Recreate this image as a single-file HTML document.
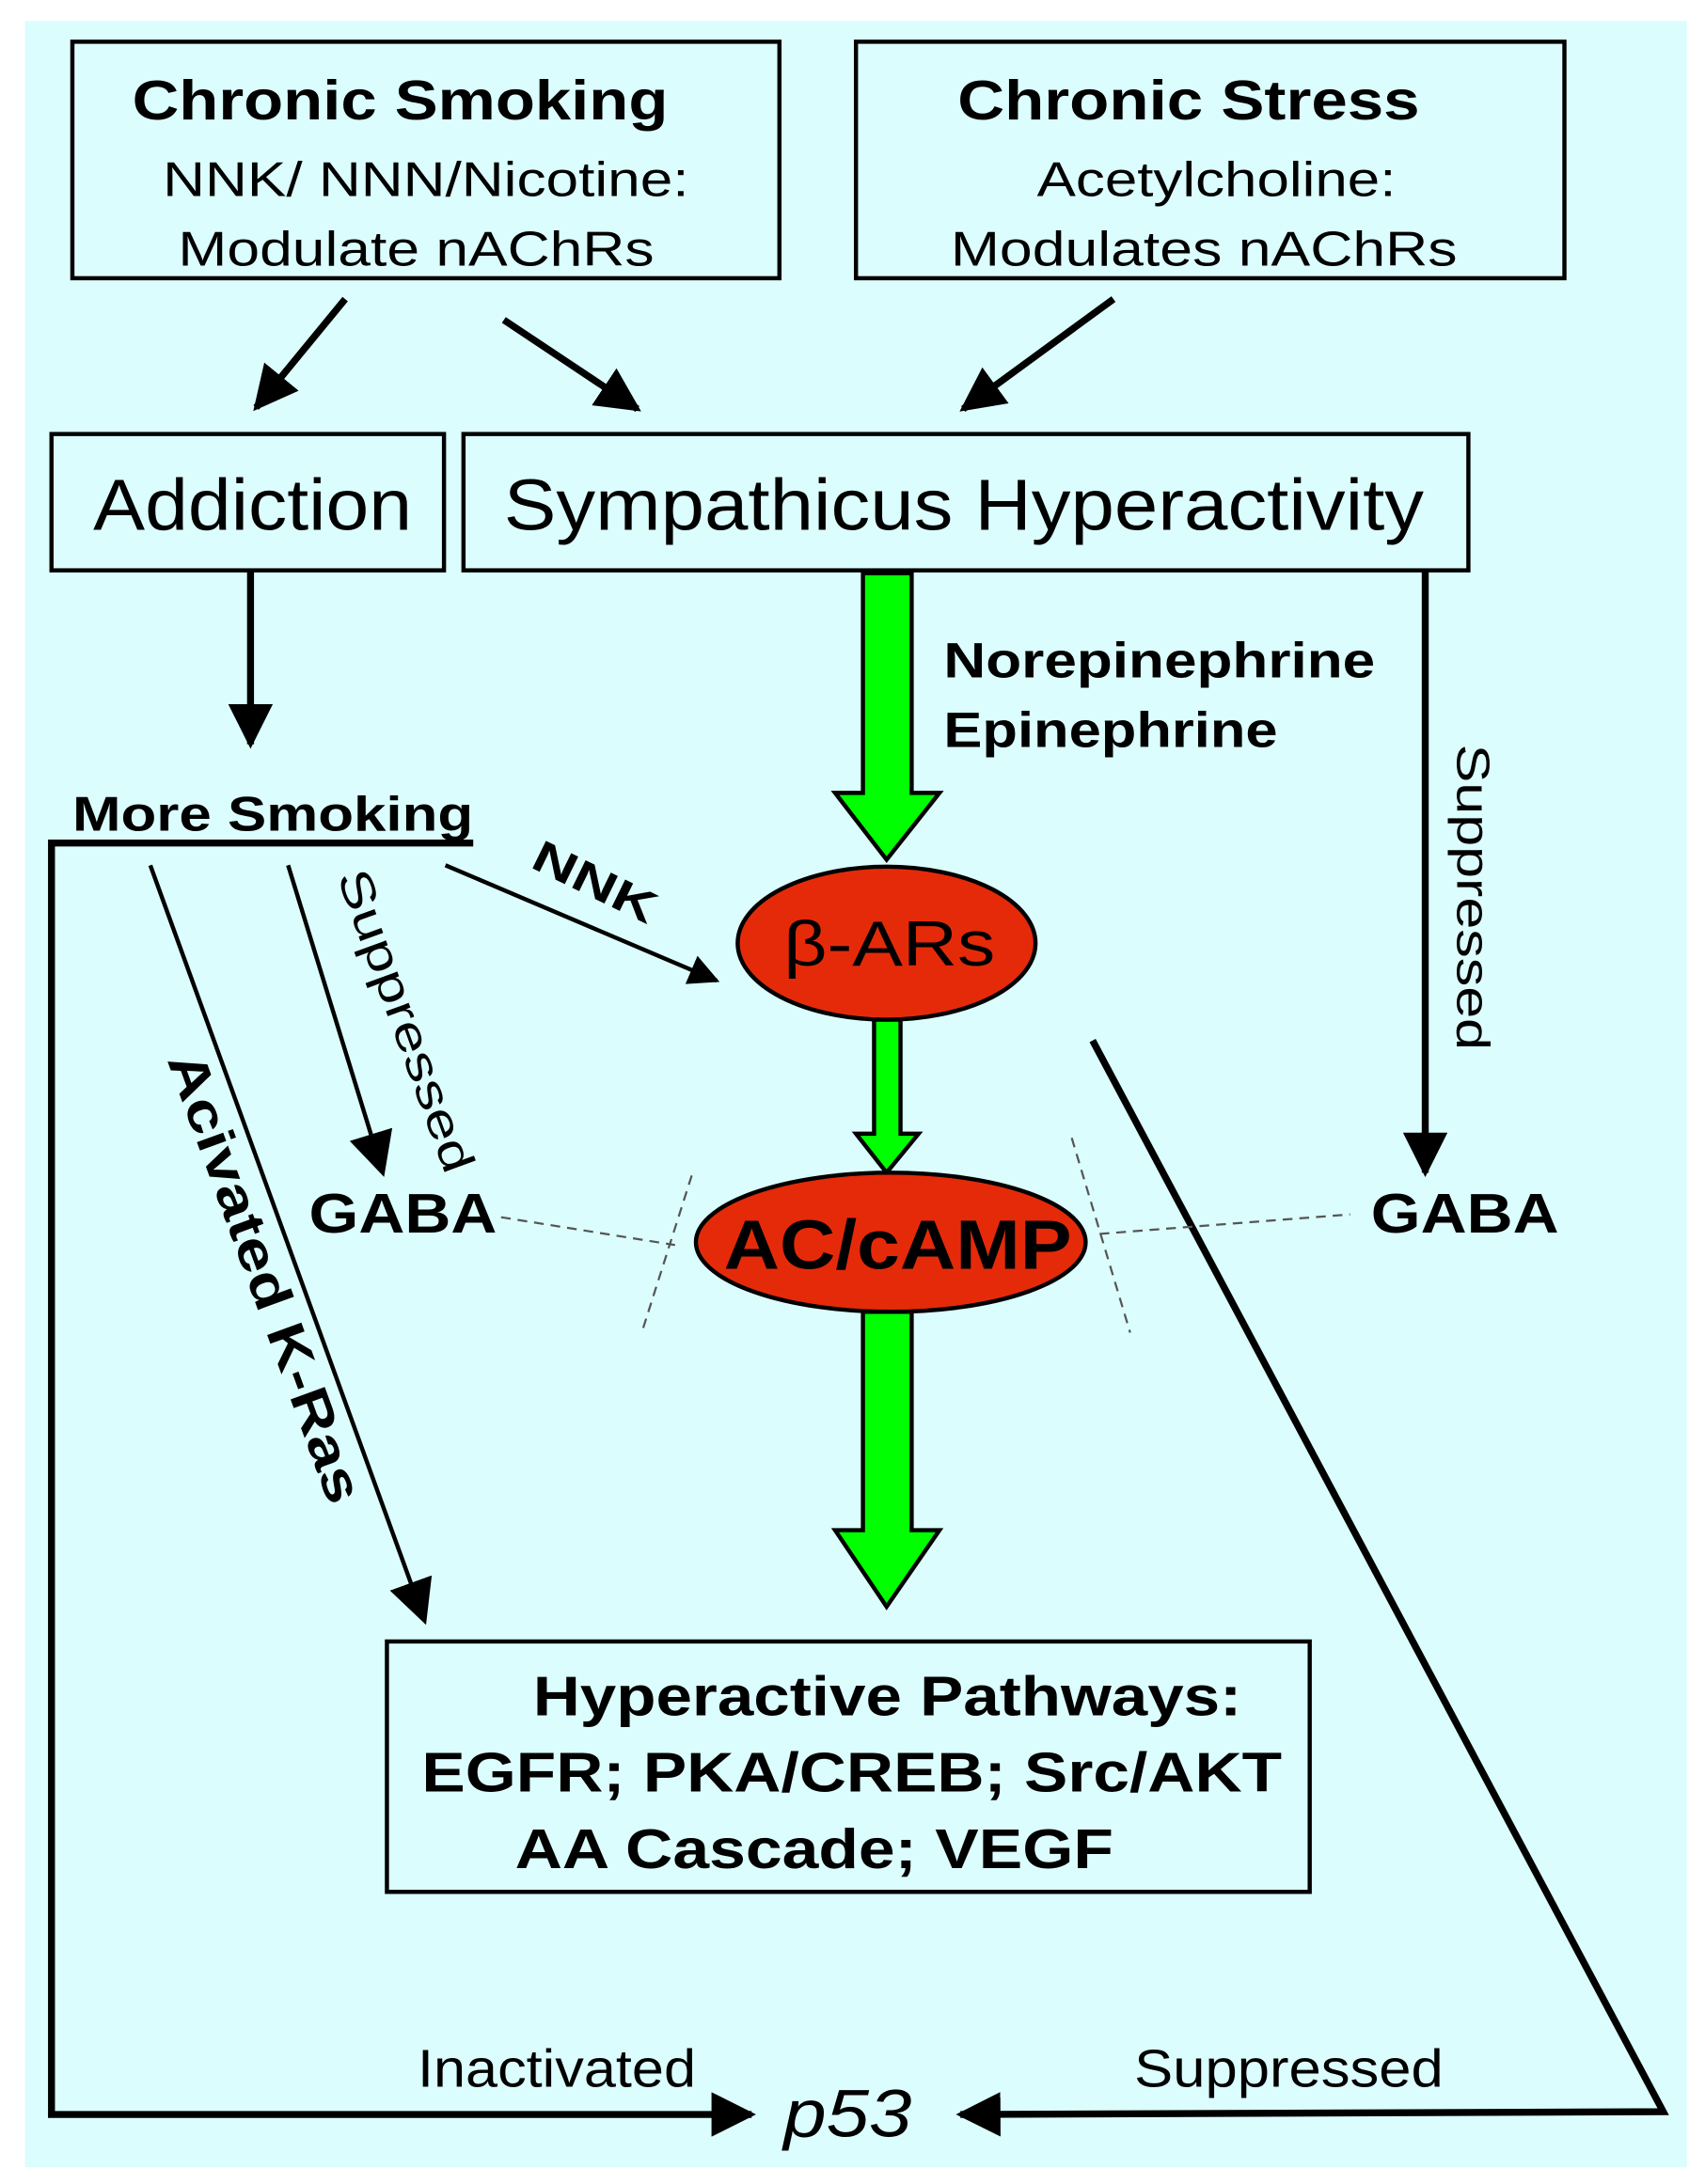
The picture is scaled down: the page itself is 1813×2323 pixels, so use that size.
<!DOCTYPE html>
<html><head><style>html,body{margin:0;padding:0;background:#fff}svg{display:block}</style></head>
<body>
<svg width="1813" height="2323" viewBox="0 0 1225 1570" preserveAspectRatio="none" xmlns="http://www.w3.org/2000/svg" font-family="Liberation Sans, sans-serif">
<defs>
<marker id="b" viewBox="0 0 10 10" refX="9" refY="5" markerWidth="32" markerHeight="32" orient="auto" markerUnits="userSpaceOnUse"><path d="M0,0 L10,5 L0,10 z" fill="#000"/></marker>
<marker id="c" viewBox="0 0 10 10" refX="9" refY="5" markerWidth="22" markerHeight="22" orient="auto" markerUnits="userSpaceOnUse"><path d="M0,0 L10,5 L0,10 z" fill="#000"/></marker>
</defs>
<rect x="18" y="15" width="1194" height="1543" fill="#dcfdfd"/>
<g fill="none" stroke="#000" stroke-width="3">
<rect x="52" y="30" width="508" height="170"/>
<rect x="615" y="30" width="509" height="170"/>
<rect x="37" y="312" width="282" height="98"/>
<rect x="333" y="312" width="722" height="98"/>
<rect x="278" y="1180" width="663" height="180"/>
</g>
<g fill="#000" lengthAdjust="spacingAndGlyphs">
<text x="95" y="86" font-size="40" font-weight="bold" textLength="385" lengthAdjust="spacingAndGlyphs">Chronic Smoking</text>
<text x="117" y="141" font-size="35" textLength="378" lengthAdjust="spacingAndGlyphs">NNK/ NNN/Nicotine:</text>
<text x="128" y="191" font-size="35" textLength="342" lengthAdjust="spacingAndGlyphs">Modulate nAChRs</text>
<text x="688" y="86" font-size="40" font-weight="bold" textLength="332" lengthAdjust="spacingAndGlyphs">Chronic Stress</text>
<text x="745" y="141" font-size="35" textLength="258" lengthAdjust="spacingAndGlyphs">Acetylcholine:</text>
<text x="683" y="191" font-size="35" textLength="364" lengthAdjust="spacingAndGlyphs">Modulates nAChRs</text>
<text x="67" y="381" font-size="52" textLength="229" lengthAdjust="spacingAndGlyphs">Addiction</text>
<text x="362" y="381" font-size="52" textLength="661" lengthAdjust="spacingAndGlyphs">Sympathicus Hyperactivity</text>
<text x="383" y="1233" font-size="40" font-weight="bold" textLength="509" lengthAdjust="spacingAndGlyphs">Hyperactive Pathways:</text>
<text x="303" y="1288" font-size="40" font-weight="bold" textLength="618" lengthAdjust="spacingAndGlyphs">EGFR; PKA/CREB; Src/AKT</text>
<text x="370" y="1343" font-size="40" font-weight="bold" textLength="430" lengthAdjust="spacingAndGlyphs">AA Cascade; VEGF</text>
</g>
<g stroke="#000" stroke-width="5" fill="none">
<line x1="248" y1="215" x2="184" y2="293" marker-end="url(#b)"/>
<line x1="362" y1="230" x2="458" y2="294" marker-end="url(#b)"/>
<line x1="800" y1="215" x2="692" y2="294" marker-end="url(#b)"/>
<line x1="180" y1="410" x2="180" y2="535" marker-end="url(#b)"/>
<polyline points="340,606 37,606 37,1520 540,1520" marker-end="url(#b)"/>
<polyline points="785,748 1195,1518 690,1520" marker-end="url(#b)"/>
<line x1="1024" y1="410" x2="1024" y2="843" marker-end="url(#b)"/>
</g>
<g stroke="#000" stroke-width="3" fill="none">
<line x1="320" y1="622" x2="515" y2="705" marker-end="url(#c)"/>
<line x1="207" y1="622" x2="275" y2="843" marker-end="url(#b)"/>
<line x1="108" y1="622" x2="305" y2="1165" marker-end="url(#b)"/>
</g>
<g stroke="#555" stroke-width="1.5" stroke-dasharray="7,5" fill="none">
<line x1="360" y1="875" x2="485" y2="895"/>
<line x1="497" y1="845" x2="462" y2="955"/>
<line x1="770" y1="818" x2="812" y2="958"/>
<line x1="790" y1="887" x2="970" y2="873"/>
</g>
<g fill="#00ff00" stroke="#000" stroke-width="3" stroke-linejoin="miter">
<path d="M620,412 H655 V570 H675 L637,618 L600,570 H620 Z"/>
<path d="M628,733 H647 V815 H660 L637,843 L615,815 H628 Z"/>
<path d="M620,943 H655 V1100 H675 L637,1155 L600,1100 H620 Z"/>
</g>
<g fill="#e52a0a" stroke="#000" stroke-width="3">
<ellipse cx="637" cy="678" rx="107" ry="55"/>
<ellipse cx="640" cy="893" rx="140" ry="50"/>
</g>
<g fill="#000">
<text x="563" y="694" font-size="46" textLength="152" lengthAdjust="spacingAndGlyphs">β-ARs</text>
<text x="520" y="912" font-size="50" font-weight="bold" textLength="250" lengthAdjust="spacingAndGlyphs">AC/cAMP</text>
<text x="678" y="487" font-size="36" font-weight="bold" textLength="310" lengthAdjust="spacingAndGlyphs">Norepinephrine</text>
<text x="678" y="537" font-size="36" font-weight="bold" textLength="240" lengthAdjust="spacingAndGlyphs">Epinephrine</text>
<text x="52" y="597" font-size="35" font-weight="bold" textLength="288" lengthAdjust="spacingAndGlyphs">More Smoking</text>
<text x="222" y="886" font-size="40" font-weight="bold" textLength="135" lengthAdjust="spacingAndGlyphs">GABA</text>
<text x="985" y="886" font-size="40" font-weight="bold" textLength="135" lengthAdjust="spacingAndGlyphs">GABA</text>
<text x="300" y="1500" font-size="38" textLength="200" lengthAdjust="spacingAndGlyphs">Inactivated</text>
<text x="815" y="1500" font-size="38" textLength="222" lengthAdjust="spacingAndGlyphs">Suppressed</text>
<text x="563" y="1536" font-size="48" font-style="italic" textLength="92" lengthAdjust="spacingAndGlyphs">p53</text>
<text transform="translate(380,623) rotate(26)" font-size="32" font-weight="bold" textLength="95" lengthAdjust="spacingAndGlyphs">NNK</text>
<text transform="translate(1047,535) rotate(90)" font-size="33" textLength="220" lengthAdjust="spacingAndGlyphs">Suppressed</text>
<text transform="translate(242,630) rotate(70)" font-size="33" textLength="229" lengthAdjust="spacingAndGlyphs">Suppressed</text>
<text transform="translate(120,762) rotate(70)" font-size="38" font-weight="bold" textLength="342" lengthAdjust="spacingAndGlyphs">Acivated K-Ras</text>
</g>
</svg>
</body></html>
